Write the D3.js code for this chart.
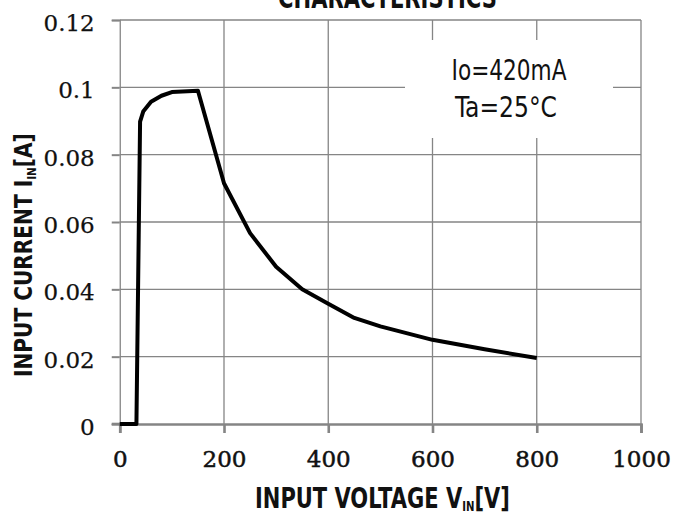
<!DOCTYPE html>
<html>
<head>
<meta charset="utf-8">
<script src="https://cdn.jsdelivr.net/npm/d3@7"></script>
<style>
html,body{margin:0;padding:0;background:#fff;}
svg{display:block;}
</style>
</head>
<body>
<svg id="chart" width="689" height="516"></svg>
<script>
// ---- data ----
const voltage = [0, 32, 39, 45, 60, 80, 100, 150, 200, 250, 300, 350, 400, 450, 500, 550, 600, 700, 800];
const current = [0, 0, 0.0898, 0.0928, 0.0957, 0.0975, 0.0986, 0.0990, 0.0715, 0.0567, 0.0467, 0.0400, 0.0357, 0.0315, 0.0290, 0.0270, 0.0250, 0.0222, 0.0196];
const xTickValues = [0, 200, 400, 600, 800, 1000];
const xTickLabels = ["0", "200", "400", "600", "800", "1000"];
const yTickValues = [0, 0.02, 0.04, 0.06, 0.08, 0.1, 0.12];
const yTickLabels = ["0", "0.02", "0.04", "0.06", "0.08", "0.1", "0.12"];
const annotation = ["Io=420mA", "Ta=25°C"];
const titleText = "CHARACTERISTICS";

const W = 689, H = 516;
const margin = {left: 119.75, right: 48, top: 20, bottom: 92};
const svg = d3.select("#chart");
const x = d3.scaleLinear().domain([0, 1000]).range([margin.left, W - margin.right]);
const y = d3.scaleLinear().domain([0, 0.12]).range([H - margin.bottom, margin.top]);
const gray = "#858585";

// grid
const grid = svg.append("g");
grid.selectAll("line.h").data(yTickValues.slice(1)).join("line")
  .attr("x1", x(0)).attr("x2", x(1000))
  .attr("y1", d => y(d)).attr("y2", d => y(d))
  .attr("stroke", gray).attr("stroke-width", 1.3);
grid.selectAll("line.v").data(xTickValues.slice(1)).join("line")
  .attr("x1", d => x(d)).attr("x2", d => x(d))
  .attr("y1", y(0)).attr("y2", y(0.12))
  .attr("stroke", gray).attr("stroke-width", 1.3);

// left axis
const yAxis = svg.append("g").attr("transform", `translate(${x(0)},0)`)
  .call(d3.axisLeft(y).tickValues(yTickValues).tickFormat((d, i) => yTickLabels[i]).tickSize(8).tickPadding(17));
yAxis.select(".domain").attr("stroke", gray).attr("stroke-width", 1.3);
yAxis.selectAll(".tick line").attr("stroke", gray).attr("stroke-width", 2);
yAxis.selectAll(".tick text").attr("font-family", "DejaVu Serif").attr("font-size", 23)
  .attr("fill", "#111").attr("stroke", "#111").attr("stroke-width", 0.25).attr("dy", "0.45em");

// bottom axis
const xAxis = svg.append("g").attr("transform", `translate(0,${y(0)})`)
  .call(d3.axisBottom(x).tickValues(xTickValues).tickFormat((d, i) => xTickLabels[i]).tickSize(9).tickPadding(21));
xAxis.select(".domain").attr("stroke", gray).attr("stroke-width", 2.6);
xAxis.selectAll(".tick line").attr("stroke", gray).attr("stroke-width", 2.6);
xAxis.selectAll(".tick text").attr("font-family", "DejaVu Serif").attr("font-size", 23)
  .attr("fill", "#111").attr("stroke", "#111").attr("stroke-width", 0.5).attr("dy", "0.55em");
svg.append("line").attr("x1", x(0) - 8).attr("x2", x(0)).attr("y1", y(0)).attr("y2", y(0))
  .attr("stroke", gray).attr("stroke-width", 2.6);

// annotation box (white, covers grid)
svg.append("rect").attr("x", 405).attr("y", 40).attr("width", 208).attr("height", 98).attr("fill", "#fff");
const ann = svg.append("g").attr("font-family", "'Liberation Sans Narrow','DejaVu Sans Condensed',sans-serif")
  .attr("font-size", 29).attr("fill", "#111").attr("text-anchor", "middle");
ann.append("text").attr("x", 509).attr("y", 80).attr("textLength", 115).attr("lengthAdjust", "spacingAndGlyphs").text(annotation[0]);
ann.append("text").attr("x", 506).attr("y", 117).attr("textLength", 102).attr("lengthAdjust", "spacingAndGlyphs").text(annotation[1]);

// curve
const pts = voltage.map((v, i) => [v, current[i]]);
svg.append("path").datum(pts)
  .attr("d", d3.line().x(d => x(d[0])).y(d => y(d[1])))
  .attr("fill", "none").attr("stroke", "#000").attr("stroke-width", 4).attr("stroke-linejoin", "round");

function fitText(sel, x0, width) {
  const bb = sel.node().getBBox();
  const s = width / bb.width;
  sel.attr("transform", `translate(${x0},0) scale(${s},1) translate(${-bb.x},0)`);
}

const gothic = "'DejaVu Sans','Noto Sans CJK JP',sans-serif";

// x title
const xt = svg.append("text").attr("font-family", gothic).attr("font-weight", "bold").attr("font-size", 29)
  .attr("fill", "#111").attr("y", 508);
xt.append("tspan").text("INPUT VOLTAGE V");
xt.append("tspan").attr("font-size", 14).attr("dy", 3).text("IN");
xt.append("tspan").attr("dy", -3).text("[V]");
fitText(xt, 255, 255);

// y title (rotated)
const ytG = svg.append("g").attr("transform", "translate(32,377) rotate(-90)");
const yt = ytG.append("text").attr("font-family", gothic).attr("font-weight", "bold").attr("font-size", 25)
  .attr("fill", "#111").attr("y", 0);
yt.append("tspan").text("INPUT CURRENT I");
yt.append("tspan").attr("font-size", 13).attr("dy", 4).text("IN");
yt.append("tspan").attr("dy", -4).text("[A]");
fitText(yt, 0, 244);

// title (partly above the top edge, as in the reference)
const tt = svg.append("text").attr("font-family", gothic).attr("font-weight", "bold").attr("font-size", 30)
  .attr("fill", "#111").attr("y", 8).text(titleText);
fitText(tt, 278, 219);
</script>
</body>
</html>
